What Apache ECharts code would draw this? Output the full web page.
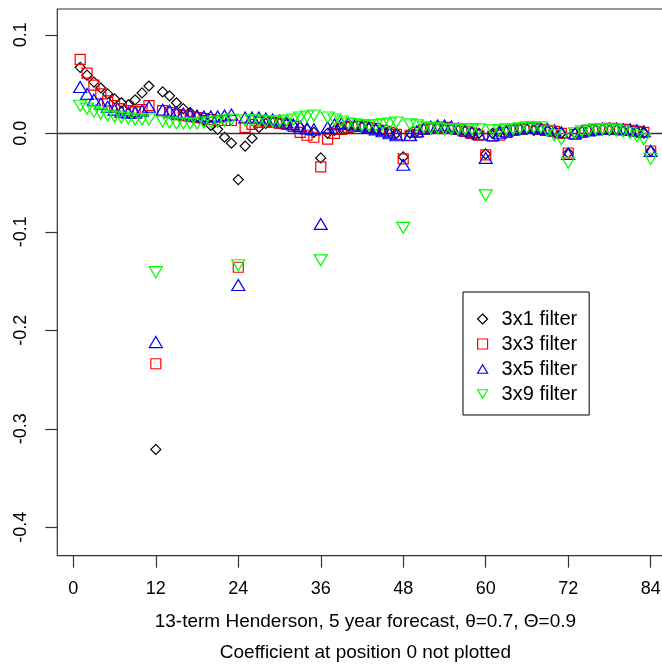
<!DOCTYPE html>
<html><head><meta charset="utf-8">
<script src="https://cdn.jsdelivr.net/npm/echarts@6/dist/echarts.min.js"></script>
<style>html,body{margin:0;padding:0;background:#fff}#c{width:662px;height:666px}</style>
</head><body><div id="c"></div><script>
const lags = [1,2,3,4,5,6,7,8,9,10,11,12,13,14,15,16,17,18,19,20,21,22,23,24,25,26,27,28,29,30,31,32,33,34,35,36,37,38,39,40,41,42,43,44,45,46,47,48,49,50,51,52,53,54,55,56,57,58,59,60,61,62,63,64,65,66,67,68,69,70,71,72,73,74,75,76,77,78,79,80,81,82,83,84];
const xTicks = [0,12,24,36,48,60,72,84];
const yTicks = [-0.4,-0.3,-0.2,-0.1,0.0,0.1];
const seriesNames = ['3x1 filter','3x3 filter','3x5 filter','3x9 filter'];
const f3x1 = [0.067,0.059,0.052,0.046,0.040,0.035,0.031,0.029,0.034,0.041,0.048,-0.321,
  0.042,0.038,0.031,0.025,0.021,0.017,0.013,0.008,0.004,-0.004,-0.010,-0.047,
  -0.013,-0.005,0.006,0.010,0.011,0.010,0.009,0.008,0.006,0.004,0.001,-0.025,
  0.000,0.003,0.006,0.007,0.007,0.006,0.005,0.004,0.003,0.002,0.000,-0.024,
  0.000,0.002,0.004,0.005,0.005,0.004,0.004,0.003,0.002,0.001,0.000,-0.021,
  0.000,0.002,0.003,0.004,0.004,0.004,0.003,0.003,0.002,0.001,0.000,-0.020,
  0.000,0.002,0.003,0.003,0.004,0.003,0.003,0.002,0.002,0.001,0.000,-0.018];
const f3x3 = [0.075,0.061,0.049,0.040,0.033,0.028,0.025,0.023,0.022,0.024,0.028,-0.234,
  0.023,0.021,0.019,0.018,0.017,0.016,0.015,0.014,0.013,0.013,0.013,-0.136,
  0.006,0.009,0.011,0.012,0.011,0.010,0.009,0.007,0.001,-0.002,-0.004,-0.034,
  -0.006,0.000,0.004,0.006,0.007,0.007,0.006,0.005,0.003,0.001,-0.001,-0.026,
  -0.002,0.001,0.004,0.005,0.006,0.006,0.005,0.004,0.002,0.000,-0.002,-0.022,
  -0.003,-0.002,0.001,0.003,0.004,0.005,0.005,0.004,0.003,0.002,0.000,-0.020,
  -0.001,0.001,0.003,0.004,0.004,0.005,0.004,0.004,0.003,0.002,0.001,-0.018];
const f3x5 = [0.047,0.040,0.034,0.030,0.027,0.024,0.022,0.021,0.021,0.023,0.027,-0.212,
  0.024,0.023,0.021,0.020,0.019,0.018,0.017,0.017,0.017,0.018,0.019,-0.154,
  0.016,0.016,0.016,0.015,0.014,0.013,0.011,0.009,0.007,0.005,0.004,-0.092,
  0.006,0.009,0.010,0.010,0.009,0.008,0.006,0.004,0.002,0.000,-0.002,-0.032,
  -0.002,0.002,0.005,0.007,0.008,0.008,0.007,0.005,0.003,0.001,-0.001,-0.025,
  -0.002,0.000,0.002,0.004,0.005,0.006,0.006,0.005,0.004,0.003,0.001,-0.021,
  0.000,0.002,0.003,0.004,0.005,0.005,0.005,0.004,0.004,0.003,0.002,-0.018];
const f3x9 = [0.028,0.025,0.022,0.020,0.018,0.017,0.016,0.015,0.014,0.014,0.014,-0.141,
  0.012,0.011,0.010,0.010,0.010,0.010,0.011,0.011,0.012,0.013,0.014,-0.134,
  0.013,0.013,0.013,0.012,0.012,0.012,0.013,0.014,0.016,0.017,0.018,-0.129,
  0.016,0.014,0.012,0.010,0.009,0.008,0.008,0.008,0.009,0.010,0.011,-0.096,
  0.009,0.008,0.006,0.005,0.005,0.004,0.004,0.004,0.004,0.004,0.004,-0.063,
  0.003,0.003,0.004,0.004,0.005,0.006,0.006,0.006,0.002,-0.002,-0.006,-0.030,
  0.000,0.002,0.003,0.004,0.004,0.004,0.003,0.002,0.000,-0.003,-0.006,-0.026];
const xLabel = '13-term Henderson, 5 year forecast, θ=0.7, Θ=0.9\nCoefficient at position 0 not plotted';

const FONT = 'Liberation Sans, Arial, sans-serif';
const DIAMOND = 'path://M1,0L2,1L1,2L0,1Z';
const DOWNTRI = 'path://M0,0L2,0L1,1.7Z';
const UPTRI = 'path://M1,0L2,1.7L0,1.7Z';
const styles = [
  {color:'#000000', symbol: DIAMOND, size: 10},
  {color:'#ff0000', symbol: 'rect', size: 10},
  {color:'#0000ff', symbol: UPTRI, size: [13,11]},
  {color:'#00ff00', symbol: DOWNTRI, size: [13,11]}
];
const vals = [f3x1, f3x3, f3x5, f3x9];
const series = vals.map((v, k) => ({
  name: seriesNames[k],
  type: 'scatter',
  symbol: styles[k].symbol,
  symbolSize: styles[k].size,
  itemStyle: {color: 'rgba(0,0,0,0)', borderColor: styles[k].color, borderWidth: 1.2, opacity: 1},
  emphasis: {disabled: true},
  data: lags.map((l, i) => [l, v[i]]),
  z: 3 + k
}));
series[0].markLine = {
  silent: true, symbol: 'none', label: {show: false},
  lineStyle: {color: '#333', width: 1.3, type: 'solid'},
  data: [{yAxis: 0}]
};

const chart = echarts.init(document.getElementById('c'), null, {renderer: 'canvas'});
chart.setOption({
  animation: false,
  backgroundColor: '#fff',
  grid: {left: 57.3, top: 9, right: -11.5, bottom: 110.3, containLabel: false, outerBoundsMode: 'none',
    show: true, borderColor: '#333', borderWidth: 1.2, backgroundColor: 'transparent'},
  xAxis: {
    type: 'value', min: -2.33, max: 87.32,
    axisLine: {show: false, onZero: false},
    axisTick: {show: true, inside: false, length: 12, lineStyle: {color: '#333', width: 1.2}, customValues: xTicks},
    axisLabel: {show: true, fontSize: 18, fontFamily: FONT, color: '#000', margin: 24, customValues: xTicks, formatter: v => String(v)},
    splitLine: {show: false},
    name: xLabel, nameLocation: 'middle', nameGap: 50.5,
    nameTextStyle: {fontSize: 19, fontFamily: FONT, color: '#000', lineHeight: 31}
  },
  yAxis: {
    type: 'value', min: -0.4289, max: 0.1262,
    axisLine: {show: false, onZero: false},
    axisTick: {show: true, inside: false, length: 12, lineStyle: {color: '#333', width: 1.2}, customValues: yTicks},
    axisLabel: {show: true, rotate: 90, fontSize: 18, fontFamily: FONT, color: '#000', margin: 27, customValues: yTicks, formatter: v => v.toFixed(1)},
    splitLine: {show: false}
  },
  legend: {
    orient: 'vertical', left: 463, top: 292,
    padding: [17, 12, 11, 14], itemGap: 5, itemWidth: 10, itemHeight: 10,
    borderColor: '#000', borderWidth: 1, backgroundColor: '#fff', borderRadius: 0,
    textStyle: {fontSize: 20, fontFamily: FONT, color: '#000', lineHeight: 20, padding: [0, 0, 0, 9]},
    selectedMode: false,
    data: seriesNames.map((n, k) => ({name: n, icon: styles[k].symbol,
      itemStyle: {color: 'rgba(0,0,0,0)', borderColor: styles[k].color, borderWidth: 1.2}}))
  },
  series: series
});
</script></body></html>
